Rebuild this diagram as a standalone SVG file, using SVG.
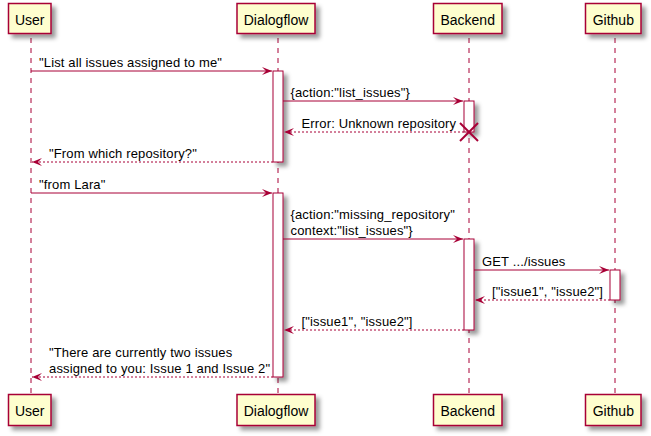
<svg xmlns="http://www.w3.org/2000/svg" width="651" height="436" viewBox="0 0 651 436">
<defs>
<filter id="sh" x="-1" y="-1" width="300%" height="300%">
<feGaussianBlur in="SourceAlpha" stdDeviation="2" result="b"/>
<feColorMatrix in="b" type="matrix" values="0 0 0 0 0 0 0 0 0 0 0 0 0 0 0 0 0 0 .4 0" result="b2"/>
<feOffset in="b2" dx="4" dy="4" result="b3"/>
<feBlend in="SourceGraphic" in2="b3" mode="normal"/>
</filter>
<marker id="ah" markerUnits="userSpaceOnUse" viewBox="0 0 10 8" refX="10" refY="4" markerWidth="10" markerHeight="8" orient="auto">
<polygon points="0,0 10,4 0,8 4,4" fill="#A80036"/>
</marker>
</defs>
<style>
.box{fill:#FEFECE;stroke:#A80036;stroke-width:1.5;filter:url(#sh)}
.act{fill:#FFFFFF;stroke:#A80036;stroke-width:1;filter:url(#sh)}
.life{stroke:#A80036;stroke-width:1;stroke-dasharray:5,5;fill:none}
.msg{stroke:#A80036;stroke-width:1;fill:none;marker-end:url(#ah)}
.ret{stroke:#A80036;stroke-width:1;fill:none;stroke-dasharray:2,2;marker-end:url(#ah)}
.pt{font-family:"Liberation Sans",Arial,sans-serif;font-size:14px;fill:#000;text-anchor:middle}
.mt{font-family:"Liberation Sans",Arial,sans-serif;font-size:13px;fill:#000;letter-spacing:0.15px}
.x{stroke:#A80036;stroke-width:2}
</style>
<rect width="651" height="436" fill="#FFFFFF"/>
<g id="lifelines">
<line class="life" x1="31" y1="38" x2="31" y2="394"/>
<line class="life" x1="278" y1="38" x2="278" y2="394"/>
<line class="life" x1="469" y1="38" x2="469" y2="394"/>
<line class="life" x1="615" y1="38" x2="615" y2="394"/>
</g>
<g id="User">
<rect class="box" x="8.5" y="3.5" width="42.5" height="30"/>
<text class="pt" x="29.7" y="24.5">User</text>
<rect class="box" x="8.5" y="394.5" width="42.5" height="31"/>
<text class="pt" x="29.7" y="416">User</text>
</g>
<g id="Dialogflow">
<rect class="box" x="237" y="3.5" width="78" height="30"/>
<text class="pt" x="276" y="24.5">Dialogflow</text>
<rect class="box" x="237" y="394.5" width="78" height="31"/>
<text class="pt" x="276" y="416">Dialogflow</text>
<rect class="act" x="273" y="71" width="10" height="91"/>
<rect class="act" x="273" y="193" width="10" height="184"/>
</g>
<g id="Backend">
<rect class="box" x="433.5" y="3.5" width="68.5" height="30"/>
<text class="pt" x="467.7" y="24.5">Backend</text>
<rect class="box" x="433.5" y="394.5" width="68.5" height="31"/>
<text class="pt" x="467.7" y="416">Backend</text>
<rect class="act" x="464" y="101" width="10" height="31"/>
<rect class="act" x="464" y="239" width="10" height="91"/>
<line class="x" x1="460" y1="123" x2="478" y2="141"/>
<line class="x" x1="460" y1="141" x2="478" y2="123"/>
</g>
<g id="Github">
<rect class="box" x="585.5" y="3.5" width="55.5" height="30"/>
<text class="pt" x="613.3" y="24.5">Github</text>
<rect class="box" x="585.5" y="394.5" width="55.5" height="31"/>
<text class="pt" x="613.3" y="416">Github</text>
<rect class="act" x="610" y="270" width="10" height="30"/>
</g>
<g id="connectors">
<line class="msg" x1="31" y1="71" x2="272" y2="71"/>
<text class="mt" x="39" y="66.5">"List all issues assigned to me"</text>
<line class="msg" x1="283" y1="101" x2="463" y2="101"/>
<text class="mt" x="290.5" y="96.5">{action:"list_issues"}</text>
<line class="ret" x1="464" y1="132" x2="284" y2="132"/>
<text class="mt" x="301.5" y="127.5">Error: Unknown repository</text>
<line class="ret" x1="273" y1="162" x2="32" y2="162"/>
<text class="mt" x="49" y="157.5">"From which repository?"</text>
<line class="msg" x1="31" y1="193" x2="272" y2="193"/>
<text class="mt" x="39" y="188.5">"from Lara"</text>
<line class="msg" x1="283" y1="239" x2="463" y2="239"/>
<text class="mt" x="290.5" y="219.3">{action:"missing_repository"</text>
<text class="mt" x="290.5" y="235">context:"list_issues"}</text>
<line class="msg" x1="474" y1="270" x2="609" y2="270"/>
<text class="mt" x="482" y="265.5">GET .../issues</text>
<line class="ret" x1="610" y1="300" x2="475" y2="300"/>
<text class="mt" x="492" y="295.5">["issue1", "issue2"]</text>
<line class="ret" x1="464" y1="330" x2="284" y2="330"/>
<text class="mt" x="301.5" y="325.5">["issue1", "issue2"]</text>
<line class="ret" x1="273" y1="377" x2="32" y2="377"/>
<text class="mt" x="49" y="357.3">"There are currently two issues</text>
<text class="mt" x="49" y="373">assigned to you: Issue 1 and Issue 2"</text>
</g>
</svg>
